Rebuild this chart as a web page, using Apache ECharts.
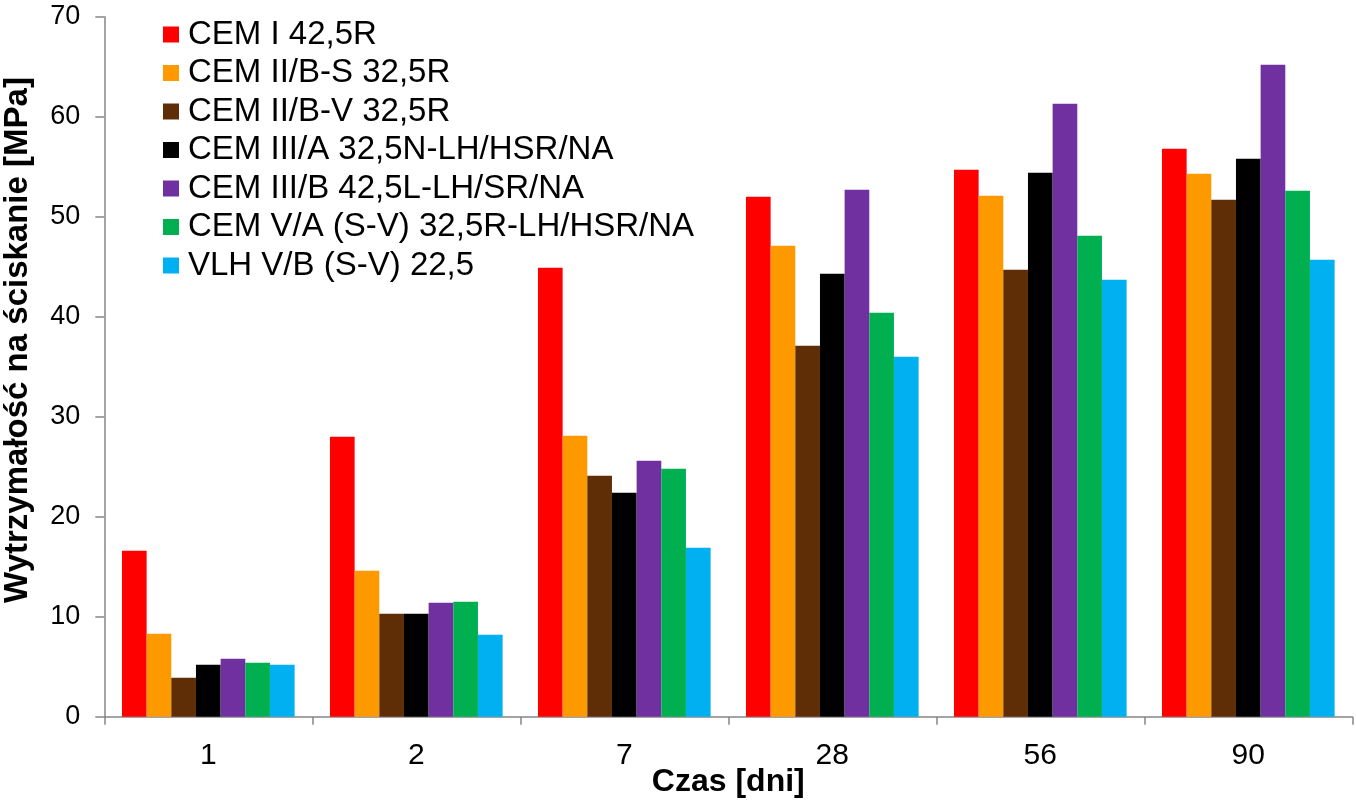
<!DOCTYPE html>
<html>
<head>
<meta charset="utf-8">
<script src="https://cdn.jsdelivr.net/npm/echarts@6/dist/echarts.min.js"></script>
<style>
html,body{margin:0;padding:0;background:#fff;}
#chart{width:1356px;height:800px;}
</style>
</head>
<body>
<div id="chart"></div>
<script>
var categories = ['1', '2', '7', '28', '56', '90'];
var seriesNames = [
  'CEM I 42,5R',
  'CEM II/B-S 32,5R',
  'CEM II/B-V 32,5R',
  'CEM III/A 32,5N-LH/HSR/NA',
  'CEM III/B 42,5L-LH/SR/NA',
  'CEM V/A (S-V) 32,5R-LH/HSR/NA',
  'VLH V/B (S-V) 22,5'
];
var cemI = [16.6, 28.0, 44.9, 52.0, 54.7, 56.8];
var cemIIBS = [8.3, 14.6, 28.1, 47.1, 52.1, 54.3];
var cemIIBV = [3.9, 10.3, 24.1, 37.1, 44.7, 51.7];
var cemIIIA = [5.2, 10.3, 22.4, 44.3, 54.4, 55.8];
var cemIIIB = [5.8, 11.4, 25.6, 52.7, 61.3, 65.2];
var cemVA = [5.4, 11.5, 24.8, 40.4, 48.1, 52.6];
var vlhVB = [5.2, 8.2, 16.9, 36.0, 43.7, 45.7];
var yTicks = [0, 10, 20, 30, 40, 50, 60, 70];

var colors = ['#FF0000', '#FF9900', '#5F2E06', '#000000', '#7030A0', '#00B050', '#00B0F0'];
var allData = [cemI, cemIIBS, cemIIBV, cemIIIA, cemIIIB, cemVA, vlhVB];
var FONT = "'Liberation Sans', Arial, sans-serif";

var chart = echarts.init(document.getElementById('chart'), null, {renderer: 'canvas'});
var series = allData.map(function (d, i) {
  return {
    name: seriesNames[i],
    type: 'bar',
    data: d,
    barGap: '0%',
    barCategoryGap: '17%',
    itemStyle: {color: colors[i]},
    animation: false
  };
});

chart.setOption({
  animation: false,
  backgroundColor: '#ffffff',
  color: colors,
  textStyle: {fontFamily: FONT},
  grid: {left: 104.3, right: 3.7, top: 16.7, bottom: 83.3, containLabel: false, outerBoundsMode: 'none'},
  legend: {
    orient: 'vertical',
    left: 163,
    top: 18,
    padding: 0,
    itemWidth: 16,
    itemHeight: 16,
    itemGap: 5.5,
    icon: 'rect',
    selectedMode: false,
    data: seriesNames,
    textStyle: {fontFamily: FONT, fontSize: 33, lineHeight: 30, color: '#000', padding: [0, 0, 0, 4]}
  },
  xAxis: {
    type: 'category',
    data: categories,
    boundaryGap: true,
    name: 'Czas [dni]',
    nameLocation: 'middle',
    nameGap: 49,
    nameMoveOverlap: false,
    nameTextStyle: {fontFamily: FONT, fontSize: 32, fontWeight: 'bold', color: '#000'},
    axisLine: {show: true, lineStyle: {color: '#868686', width: 1.5}},
    axisTick: {show: true, length: 8, inside: false, lineStyle: {color: '#868686', width: 1.5}},
    axisLabel: {fontFamily: FONT, fontSize: 30, color: '#000', margin: 24},
    splitLine: {show: false}
  },
  yAxis: {
    type: 'value',
    min: yTicks[0],
    max: yTicks[yTicks.length - 1],
    interval: 10,
    axisLine: {show: true, lineStyle: {color: '#868686', width: 1.5}},
    axisTick: {show: true, length: 9, inside: false, lineStyle: {color: '#868686', width: 1.5}},
    axisLabel: {fontFamily: FONT, fontSize: 27, color: '#000', margin: 24},
    splitLine: {show: false}
  },
  graphic: [{
    type: 'text',
    x: 18,
    y: 340,
    rotation: Math.PI / 2,
    style: {
      text: 'Wytrzymałość na ściskanie [MPa]',
      fontFamily: FONT,
      fontSize: 33,
      fontWeight: 'bold',
      fill: '#000',
      align: 'center',
      verticalAlign: 'middle'
    }
  }],
  series: series
});
</script>
</body>
</html>
